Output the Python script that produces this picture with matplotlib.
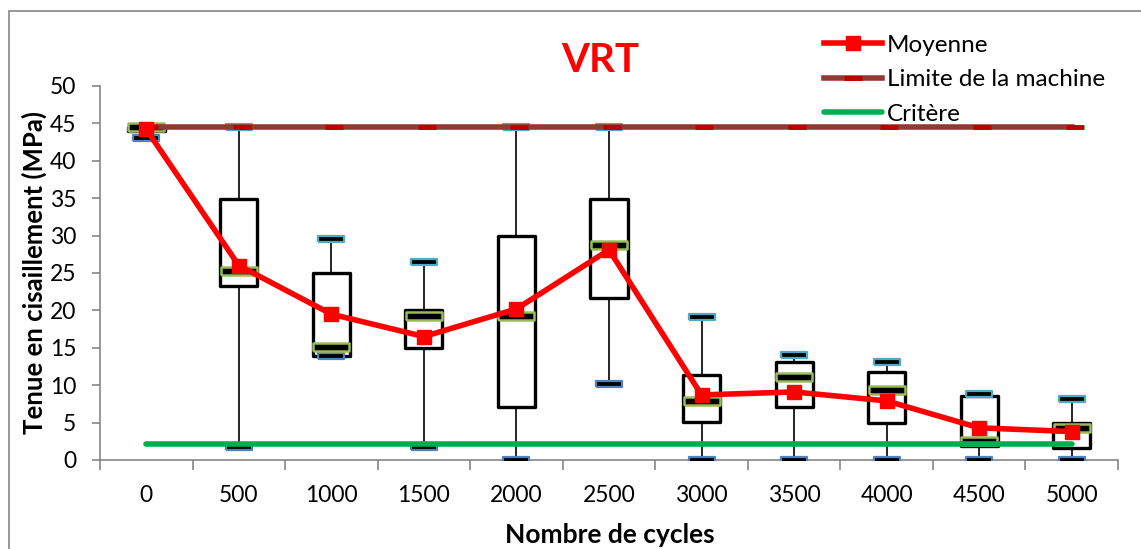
import matplotlib.pyplot as plt
import matplotlib.patches as patches
from matplotlib.lines import Line2D
import numpy as np

plt.rcParams['font.family'] = ['Lato', 'DejaVu Sans']

# Statistiques par nombre de cycles
cycles = ['0', '500', '1000', '1500', '2000', '2500', '3000', '3500', '4000', '4500', '5000']
vmin = [43.0, 1.8, 13.9, 1.8, 0.0, 10.2, 0.0, 0.0, 0.0, 0.0, 0.0]
q1 = [44.0, 23.3, 13.9, 15.0, 7.1, 21.6, 5.1, 7.1, 5.0, 1.9, 1.6]
mediane = [44.5, 25.3, 15.1, 19.2, 19.2, 28.7, 7.9, 11.1, 9.4, 2.6, 4.3]
q3 = [44.5, 34.9, 25.0, 20.0, 29.9, 34.9, 11.4, 13.1, 11.8, 8.5, 5.0]
vmax = [44.5, 44.5, 29.5, 26.5, 44.5, 44.5, 19.1, 14.0, 13.1, 8.8, 8.1]
moyenne = [44.2, 26.0, 19.5, 16.5, 20.2, 28.1, 8.7, 9.1, 7.9, 4.3, 3.8]
limite = 44.5
critere = 2.2

x = np.arange(len(cycles))
gris = '#868686'

fig = plt.figure(figsize=(11.41, 5.49), dpi=100)
ax = fig.add_axes([100 / 1141, 1 - 460 / 549, 1018 / 1141, 374 / 549])

# cadre du graphique
fig.patches.append(patches.Rectangle((9 / 1141, -0.1), 1.2, (549 - 11) / 549 + 0.1,
                                     transform=fig.transFigure, fill=False,
                                     edgecolor=gris, lw=1.2))

# marqueur rectangulaire aplati pour les extremes et la mediane
barre = [(-1, -0.2), (1, -0.2), (1, 0.2), (-1, 0.2), (-1, -0.2)]

# boites
lb = 0.40
for i in x:
    ax.plot([i, i], [q3[i], vmax[i]], color='black', lw=1.2, zorder=1)
    ax.plot([i, i], [vmin[i], q1[i]], color='black', lw=1.2, zorder=1)
    r = patches.Rectangle((i - lb / 2, q1[i]), lb, q3[i] - q1[i], facecolor='white',
                          edgecolor='black', lw=2.4, joinstyle='round', zorder=2)
    ax.add_patch(r)

ax.plot(x, vmax, ls='none', marker=barre, ms=19, mfc='black', mec='#4BACC6', mew=1.6, zorder=3)
ax.plot(x, vmin, ls='none', marker=barre, ms=19, mfc='black', mec='#4F81BD', mew=1.6, zorder=3)
ax.plot(x, mediane, ls='none', marker=barre, ms=26, mfc='black', mec='#9BBB59', mew=1.8, zorder=3)

# limite de la machine et critere
ax.plot(x, [limite] * len(x), color='#953735', lw=4, zorder=4)
ax.plot(x + 0.03, [limite] * len(x), ls='none', marker='_', ms=13, mew=3.5, color='#C00000', zorder=4)
ax.plot(x, [critere] * len(x), color='#00B050', lw=4, solid_capstyle='round', zorder=4)

# moyenne
ax.plot(x, moyenne, color='#FF0000', lw=4, marker='s', ms=10, zorder=5)

ax.set_xlim(-0.5, len(x) - 0.5)
ax.set_ylim(0, 50)
ax.set_yticks(np.arange(0, 51, 5))
ax.set_xticks(x)
ax.set_xticklabels(cycles)
ax.set_xticks(np.arange(-0.5, len(x), 1), minor=True)
ax.tick_params(axis='x', which='major', length=0, pad=18, labelsize=16.5)
ax.tick_params(axis='x', which='minor', length=7, width=1.2, color=gris)
ax.tick_params(axis='y', length=6, width=1.2, color=gris, pad=11, labelsize=16.5)
for s in ['top', 'right']:
    ax.spines[s].set_visible(False)
for s in ['left', 'bottom']:
    ax.spines[s].set_color(gris)
    ax.spines[s].set_linewidth(1.2)

fig.text(600 / 1141, 1 - 60 / 549, 'VRT', color='#FF0000', fontsize=29, fontweight='bold',
         ha='center', va='center')
fig.text(34 / 1141, 1 - 272 / 549, 'Tenue en cisaillement (MPa)', rotation=90, fontsize=18.5,
         fontweight='bold', ha='center', va='center')
fig.text(610 / 1141, 1 - 535 / 549, 'Nombre de cycles', fontsize=19, fontweight='bold',
         ha='center', va='center')

# legende
poignees = [
    Line2D([], [], color='#FF0000', lw=4, marker='s', ms=10),
    Line2D([], [], color='#953735', lw=4, marker='_', ms=13, mew=3.5, mec='#C00000'),
    Line2D([], [], color='#00B050', lw=4, solid_capstyle='round'),
]
fig.legend(poignees, ['Moyenne', 'Limite de la machine', 'Critère'], loc='upper left',
           bbox_to_anchor=(814 / 1141, 1 - 25 / 549), frameon=False, fontsize=17.5,
           handlelength=2.4, handletextpad=0.2, labelspacing=0.56, borderaxespad=0)

fig.savefig('out.png', dpi=100)
